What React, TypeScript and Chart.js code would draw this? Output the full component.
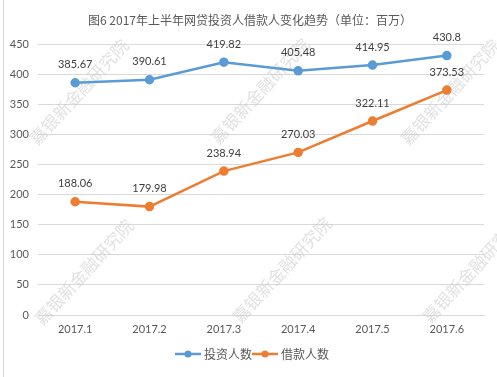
import React, { useEffect, useRef } from "react";
import { Chart, registerables } from "chart.js";

Chart.register(...registerables);

const categories = ["2017.1", "2017.2", "2017.3", "2017.4", "2017.5", "2017.6"];
const investors = [385.67, 390.61, 419.82, 405.48, 414.95, 430.8];
const borrowers = [188.06, 179.98, 238.94, 270.03, 322.11, 373.53];
const seriesNames = ["投资人数", "借款人数"];
const titleText = "图6 2017年上半年网贷投资人借款人变化趋势（单位：百万）";
const watermarkText = "嘉银新金融研究院";

const BLUE = "#5B9BD5";
const ORANGE = "#ED7D31";
const FONT = "Lato, 'Noto Sans CJK SC', sans-serif";
const CJK = "'Noto Sans CJK SC', Lato, sans-serif";

const decorPlugin = {
  id: "decor",
  beforeDraw(chart: any) {
    const ctx = chart.ctx;
    ctx.save();
    ctx.fillStyle = "#ffffff";
    ctx.fillRect(0, 0, chart.width, chart.height);
    ctx.strokeStyle = "#d9d9d9";
    ctx.lineWidth = 1;
    ctx.beginPath();
    ctx.moveTo(3.5, 0);
    ctx.lineTo(3.5, chart.height);
    ctx.stroke();
    // title
    ctx.fillStyle = "#595959";
    ctx.font = `12px ${CJK}`;
    ctx.textAlign = "center";
    ctx.textBaseline = "middle";
    ctx.fillText(titleText, 250, 20);
    ctx.restore();
  },
  beforeDatasetsDraw(chart: any) {
    const ctx = chart.ctx;
    ctx.save();
    ctx.fillStyle = "rgba(200,200,200,0.55)";
    ctx.font = `17px ${CJK}`;
    ctx.textAlign = "center";
    ctx.textBaseline = "middle";
    const spots = [
      [79, 92], [260, 91], [450, 92],
      [84, 272], [282, 270], [472, 270],
    ];
    for (const [x, y] of spots) {
      ctx.save();
      ctx.translate(x, y);
      ctx.rotate(-Math.PI / 4 - 0.04);
      ctx.fillText(watermarkText, 0, 0);
      ctx.restore();
    }
    ctx.restore();
  },
  afterDatasetsDraw(chart: any) {
    const ctx = chart.ctx;
    ctx.save();
    ctx.fillStyle = "#404040";
    ctx.font = `11px ${FONT}`;
    ctx.textAlign = "center";
    ctx.textBaseline = "middle";
    chart.data.datasets.forEach((ds: any, i: number) => {
      const meta = chart.getDatasetMeta(i);
      meta.data.forEach((pt: any, j: number) => {
        ctx.fillText(String(ds.data[j]), pt.x, pt.y - 18);
      });
    });
    // legend
    const y = 354;
    const items = [
      { x: 175, color: BLUE, label: seriesNames[0] },
      { x: 252, color: ORANGE, label: seriesNames[1] },
    ];
    ctx.font = `12px ${CJK}`;
    ctx.textAlign = "left";
    for (const it of items) {
      ctx.strokeStyle = it.color;
      ctx.lineWidth = 2.5;
      ctx.beginPath();
      ctx.moveTo(it.x, y);
      ctx.lineTo(it.x + 26, y);
      ctx.stroke();
      ctx.fillStyle = it.color;
      ctx.beginPath();
      ctx.arc(it.x + 13, y, 3.5, 0, Math.PI * 2);
      ctx.fill();
      ctx.fillStyle = "#595959";
      ctx.fillText(it.label, it.x + 29, y);
    }
    ctx.restore();
  },
};

export default function App() {
  const ref = useRef<HTMLCanvasElement>(null);
  useEffect(() => {
    document.body.style.margin = "0";
    const chart = new Chart(ref.current!, {
      type: "line",
      data: {
        labels: categories,
        datasets: [
          {
            label: seriesNames[0],
            data: investors,
            borderColor: BLUE,
            backgroundColor: BLUE,
            borderWidth: 2.5,
            pointRadius: 3.5,
            pointBackgroundColor: BLUE,
            pointBorderColor: BLUE,
            tension: 0,
          },
          {
            label: seriesNames[1],
            data: borrowers,
            borderColor: ORANGE,
            backgroundColor: ORANGE,
            borderWidth: 2.5,
            pointRadius: 3.5,
            pointBackgroundColor: ORANGE,
            pointBorderColor: ORANGE,
            tension: 0,
          },
        ],
      },
      options: {
        animation: false,
        responsive: false,
        layout: { padding: { left: 0, right: 13, top: 44, bottom: 0 } },
        plugins: {
          legend: { display: false },
          title: { display: false },
          tooltip: { enabled: false },
        },
        scales: {
          x: {
            offset: true,
            grid: { display: false, drawTicks: false },
            border: { display: true, color: "#d9d9d9", width: 1 },
            ticks: { color: "#595959", font: { family: FONT, size: 11 }, padding: 8 },
            afterFit: (s: any) => { s.height = 62; },
          },
          y: {
            min: 0,
            max: 450,
            grid: { color: "#d9d9d9", drawTicks: false },
            border: { display: false },
            ticks: { stepSize: 50, color: "#595959", font: { family: FONT, size: 11 }, padding: 9 },
            afterFit: (s: any) => { s.width = 38; },
          },
        },
      },
      plugins: [decorPlugin],
    });
    return () => chart.destroy();
  }, []);
  return <canvas ref={ref} width={497} height={377} style={{ display: "block" }} />;
}
